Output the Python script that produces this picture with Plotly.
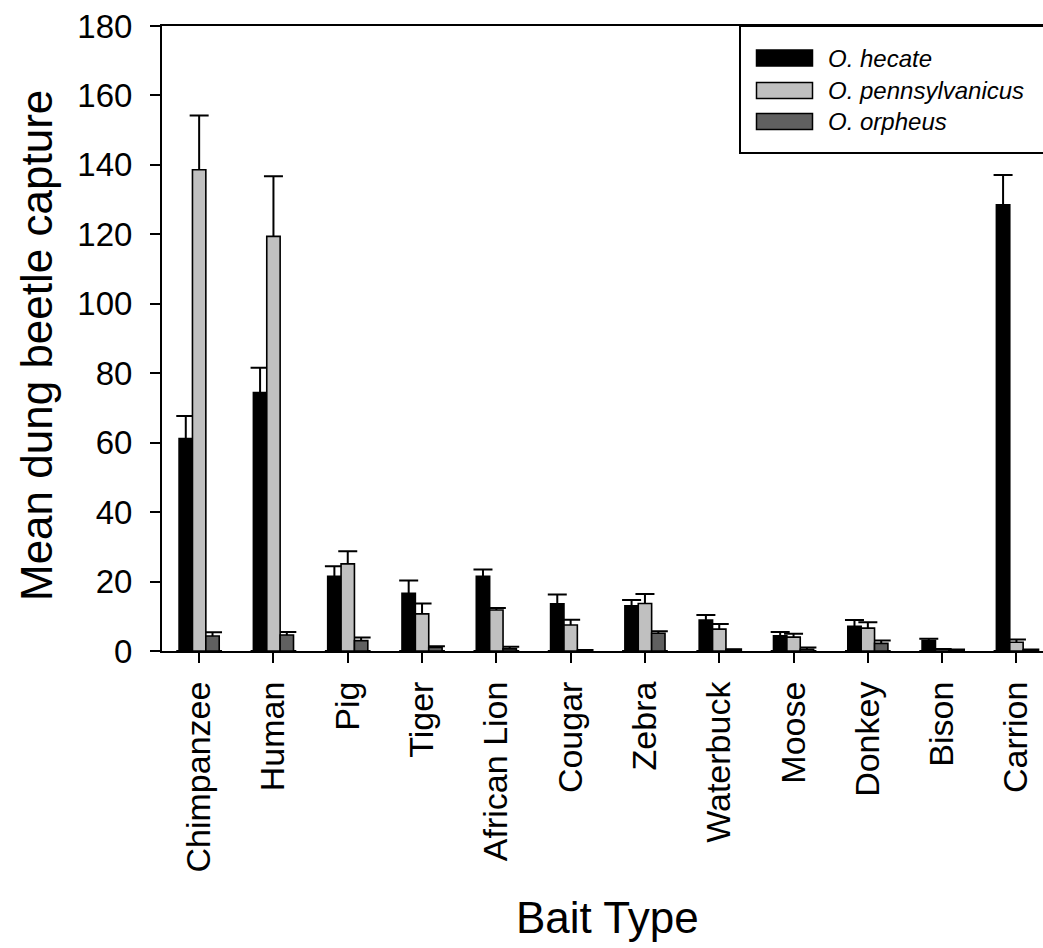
import plotly.graph_objects as go

categories = ["Chimpanzee", "Human", "Pig", "Tiger", "African Lion", "Cougar",
              "Zebra", "Waterbuck", "Moose", "Donkey", "Bison", "Carrion"]
series_names = ["O. hecate", "O. pennsylvanicus", "O. orpheus"]

hecate = [61.2, 74.4, 21.5, 16.6, 21.5, 13.6, 13.0, 8.9, 4.4, 7.1, 3.0, 128.5]
hecate_se = [6.5, 7.2, 2.9, 3.7, 2.0, 2.7, 1.7, 1.5, 1.1, 1.8, 0.5, 8.6]
penn = [138.6, 119.4, 25.1, 10.7, 11.8, 7.5, 13.7, 6.3, 4.0, 6.6, 0.5, 2.5]
penn_se = [15.6, 17.3, 3.6, 3.0, 0.6, 1.5, 2.7, 1.5, 1.0, 1.7, 0.1, 0.8]
orpheus = [4.3, 4.6, 3.0, 1.0, 0.6, 0.2, 5.1, 0.4, 0.5, 2.2, 0.3, 0.3]
orpheus_se = [1.1, 0.9, 0.9, 0.4, 0.6, 0.1, 0.6, 0.1, 0.5, 0.8, 0.1, 0.1]

y_ticks = [0, 20, 40, 60, 80, 100, 120, 140, 160, 180]

colors = ["#000000", "#c0c0c0", "#606060"]
values = [hecate, penn, orpheus]
errors = [hecate_se, penn_se, orpheus_se]
groups = ["a", "b", "c"]

FONT = "Liberation Sans, Arial, sans-serif"
W, H = 1043, 948
ML, MR, MT, MB = 162, 0, 26, 297
PW, PH = W - ML - MR, H - MT - MB

fig = go.Figure()

# error bars (drawn first, underneath the bars); stem from 0 up to mean+SE
for vals, se, g in zip(values, errors, groups):
    tops = [v + e for v, e in zip(vals, se)]
    fig.add_trace(go.Bar(
        x=categories, y=tops, offsetgroup=g,
        marker=dict(color="rgba(0,0,0,0)", line=dict(width=0)),
        error_y=dict(type="data", symmetric=False, array=[0] * len(tops),
                     arrayminus=tops, color="black", thickness=2, width=9.5),
        showlegend=False, hoverinfo="skip"))

for vals, col, g, name in zip(values, colors, groups, series_names):
    fig.add_trace(go.Bar(
        x=categories, y=vals, offsetgroup=g, name=name,
        marker=dict(color=col, line=dict(color="black", width=1.6)),
        showlegend=False))

def px_x(p):
    return (p - ML) / PW

def px_y(p):
    return (H - MB - p) / PH

shapes = []
annotations = []
# legend box
shapes.append(dict(type="rect", xref="paper", yref="paper",
                   x0=px_x(740), x1=px_x(1060), y0=px_y(153), y1=px_y(26),
                   line=dict(color="black", width=2), fillcolor="white", layer="above"))
leg_y = [58, 90.5, 121.5]
for name, col, cy in zip(series_names, colors, leg_y):
    shapes.append(dict(type="rect", xref="paper", yref="paper",
                       x0=px_x(756.5), x1=px_x(812.5), y0=px_y(cy + 8), y1=px_y(cy - 8),
                       line=dict(color="black", width=1.5), fillcolor=col, layer="above"))
    annotations.append(dict(xref="paper", yref="paper", x=px_x(826), y=px_y(cy),
                            xanchor="left", yanchor="middle", showarrow=False,
                            text="<i>%s</i>" % name,
                            font=dict(family=FONT, size=24, color="black")))

annotations.append(dict(xref="paper", yref="paper", x=px_x(36), y=px_y(346),
                        xanchor="center", yanchor="middle", textangle=-90,
                        showarrow=False, text="Mean dung beetle capture",
                        font=dict(family=FONT, size=44, color="black")))
annotations.append(dict(xref="paper", yref="paper", x=px_x(607.5), y=px_y(917),
                        xanchor="center", yanchor="middle",
                        showarrow=False, text="Bait Type",
                        font=dict(family=FONT, size=44, color="black")))

fig.update_layout(
    width=W, height=H,
    margin=dict(l=ML, r=MR, t=MT, b=MB, autoexpand=False),
    paper_bgcolor="white", plot_bgcolor="white",
    barmode="group", bargap=0.46, bargroupgap=0,
    font=dict(family=FONT, color="black"),
    shapes=shapes, annotations=annotations,
    showlegend=False,
    xaxis=dict(type="category", categoryorder="array", categoryarray=categories,
               range=[-0.5, -0.5 + PW / 74.3],
               tickangle=-90, ticks="outside", ticklen=10, tickwidth=2, tickcolor="black",
               showline=True, linewidth=2, linecolor="black", mirror=True,
               showgrid=False, zeroline=False,
               tickfont=dict(family=FONT, size=34, color="black"),
               ticklabelstandoff=5),
    yaxis=dict(range=[0, 180], tickvals=y_ticks, ticks="outside", ticklen=10,
               tickwidth=2, tickcolor="black",
               showline=True, linewidth=2, linecolor="black",
               showgrid=False, zeroline=False,
               tickfont=dict(family=FONT, size=33, color="black"),
               ticklabelstandoff=11),
)

fig.write_html("out.html")
